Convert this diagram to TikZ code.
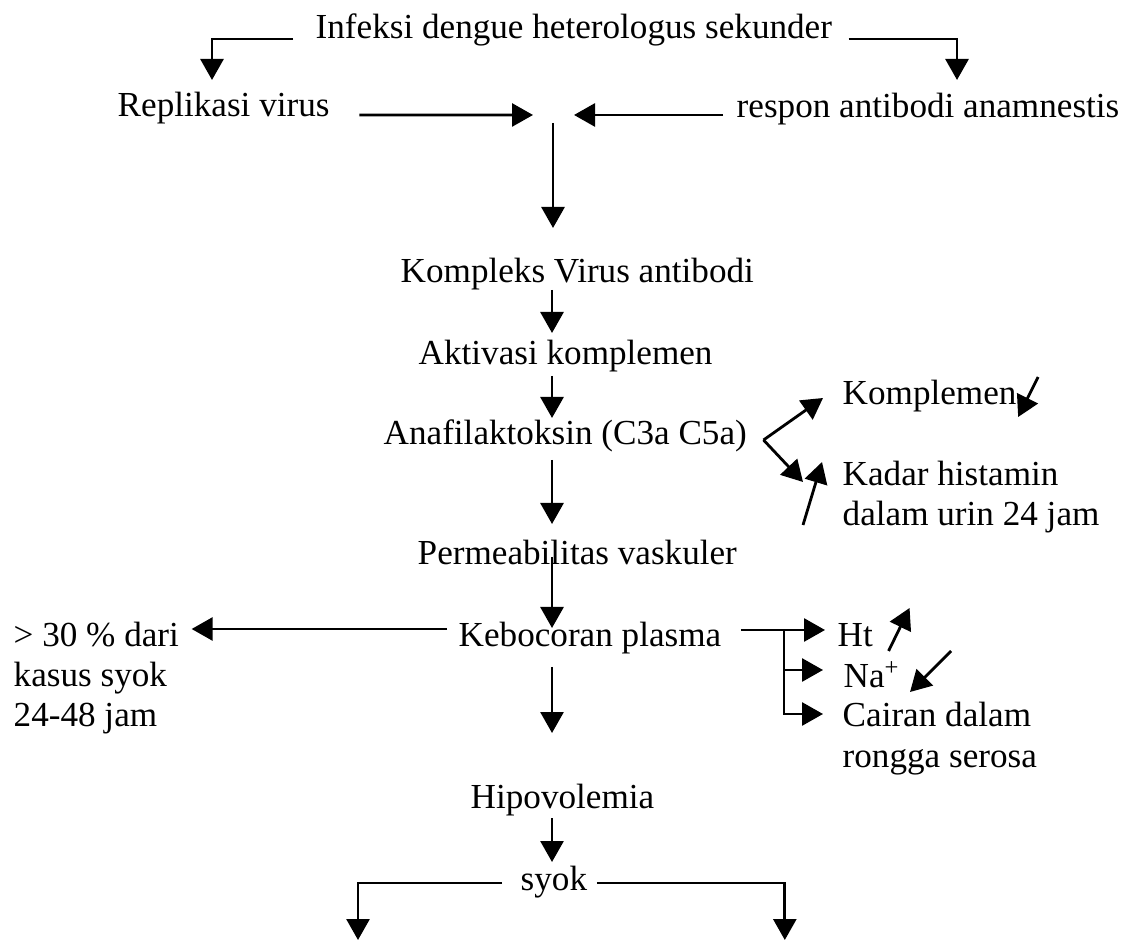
\documentclass[tikz,border=0pt]{standalone}
\usepackage{fontspec}
\setmainfont{Liberation Serif}
\usepackage{tikz}
\usetikzlibrary{arrows.meta,positioning,calc}

\begin{document}
\begin{tikzpicture}[
    lbl/.style={inner sep=0pt,anchor=base west,align=left,font=\fontsize{10}{11.4}\selectfont},
    arr/.style={-{Triangle[length=2.1mm,width=2.3mm]},thick}
  ]
    \useasboundingbox (0,0) rectangle (11.24,-9.51);
    \coordinate (col) at (5.52,0);
    \coordinate (meet) at (5.53,-1.15);
    \node[lbl] (infeksi) at (3.15,-0.39) {Infeksi dengue heterologus sekunder};
    \node[lbl] (replikasi) at (1.17,-1.17) {Replikasi virus};
    \node[lbl] (respon) at (7.36,-1.18) {respon antibodi anamnestis};
    \node[lbl] (kompleks) at (4.00,-2.83) {Kompleks Virus antibodi};
    \node[lbl] (aktivasi) at (4.18,-3.65) {Aktivasi komplemen};
    \node[lbl] (anafil) at (3.83,-4.45) {Anafilaktoksin (C3a C5a)};
    \node[lbl] (komplemen) at (8.42,-4.05) {Komplemen};
    \node[lbl] (kadar) at (8.42,-5.26) {Kadar histamin\\dalam urin 24 jam};
    \node[lbl] (permeab) at (4.17,-5.65) {Permeabilitas vaskuler};
    \node[lbl] (kebocoran) at (4.58,-6.47) {Kebocoran plasma};
    \node[lbl] (persen) at (0.13,-7.27) {> 30 \% dari\\kasus syok\\24-48 jam};
    \node[lbl] (ht) at (8.37,-6.47) {Ht};
    \node[lbl] (na) at (8.43,-6.88) {Na\textsuperscript{+}};
    \node[lbl] (cairan) at (8.42,-7.67) {Cairan dalam\\rongga serosa};
    \node[lbl] (hipo) at (4.70,-8.08) {Hipovolemia};
    \node[lbl] (syok) at (5.20,-8.90) {syok};
    \coordinate (fork) at ($(anafil.base east)+(0.16,0.05)$);
    \coordinate (branch) at ($(kebocoran.base east)+(0.62,0.17)$);
    \path ($(na.base west)+(-0.20,0.18)$) coordinate (natip);
    \path ($(cairan.base west)+(-0.19,0.53)$) coordinate (cairantip);

    \draw[arr] ($(infeksi.base west)+(-0.22,0)$) -| ($(replikasi.base west)+(0.95,0.37)$);
    \draw[arr] ($(infeksi.base east)+(0.16,0)$) -| ($(respon.base west)+(2.21,0.38)$);
    \draw[arr] ($(replikasi.base east)+(0.29,0.02)$) -- ($(meet)+(-0.20,0)$);
    \draw[arr] ($(respon.base west)+(-0.13,0.03)$) -- ($(meet)+(0.21,0)$);
    \draw[arr] ($(meet)+(0,-0.08)$) -- ($(kompleks.base -| meet)+(0,0.55)$);
    \foreach \a/\b/\s/\t in {kompleks/aktivasi/-0.07/0.32,aktivasi/anafil/-0.11/0.27,
      anafil/permeab/-0.15/0.41,permeab/kebocoran/0.08/0.19,
      kebocoran/hipo/-0.20/0.75,hipo/syok/-0.10/0.28}
      \draw[arr] ($(\a.base -| col)+(0,\s)$) -- ($(\b.base -| col)+(0,\t)$);
    \draw[arr] (fork) -- ($(komplemen.base west)+(-0.19,0.07)$);
    \draw[arr] (fork) -- ($(kadar.base west)+(-0.39,0.44)$);
    \draw[arr] ($(komplemen.base east)+(0.21,0.28)$) -- ($(komplemen.base east)+(0.01,-0.12)$);
    \draw[arr] ($(kadar.base west)+(-0.39,0.01)$) -- ($(kadar.base west)+(-0.20,0.64)$);
    \draw[arr] ($(kebocoran.base west)+(-0.11,0.18)$) -- ($(persen.base east)+(0.12,0.98)$);
    \draw[arr] ($(kebocoran.base east)+(0.19,0.17)$) -- ($(ht.base west)+(-0.12,0.17)$);
    \draw[arr] (natip -| branch) -- (natip);
    \draw[arr] (branch) |- (cairantip);
    \draw[arr] ($(ht.base east)+(0.15,-0.04)$) -- ($(ht.base east)+(0.36,0.39)$);
    \draw[arr] ($(na.base west)+(1.08,0.37)$) -- ($(na.base west)+(0.67,-0.04)$);
    \draw[arr] ($(syok.base west)+(-0.18,0.07)$) -| ($(syok.base west)+(-1.62,-0.50)$);
    \draw[arr] ($(syok.base east)+(0.09,0.07)$) -| ($(syok.base east)+(1.97,-0.50)$);
  \end{tikzpicture}
\end{document}
